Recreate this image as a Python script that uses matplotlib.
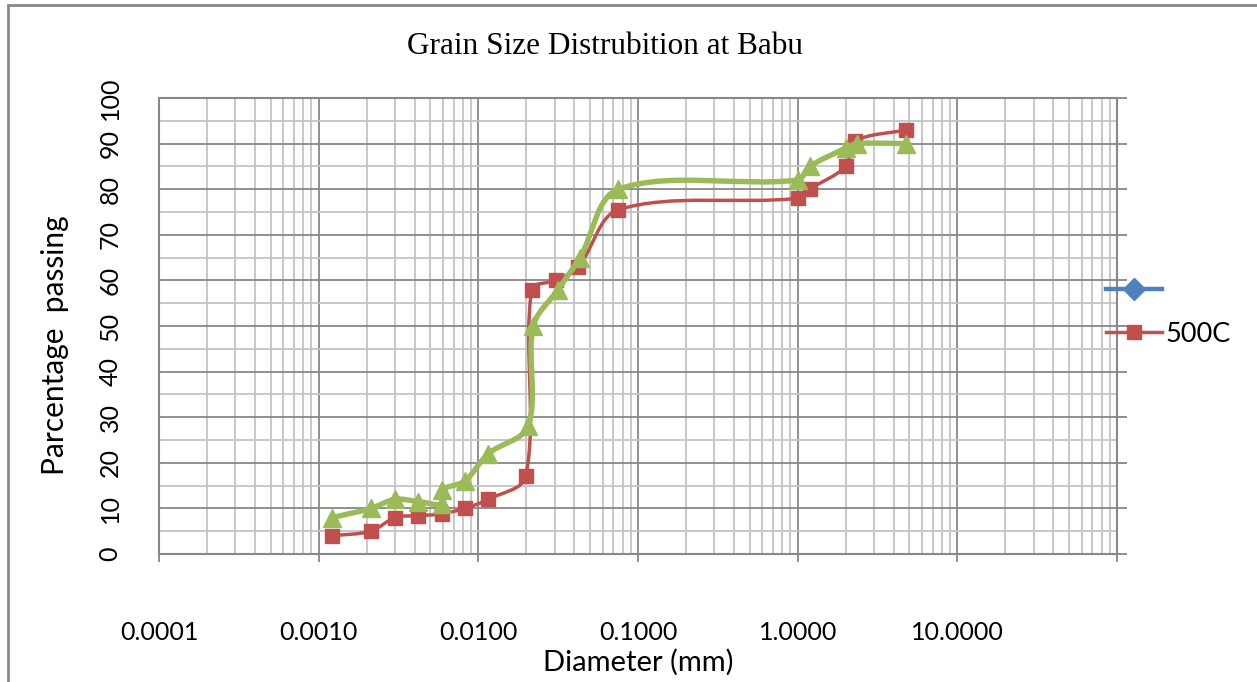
import numpy as np
import matplotlib
matplotlib.use("Agg")
import matplotlib.pyplot as plt
from matplotlib.path import Path
from matplotlib.patches import PathPatch, Rectangle
from matplotlib.lines import Line2D
from matplotlib.ticker import FixedLocator, NullFormatter

# --- data ---
dia_500c = [0.00122, 0.00212, 0.00302, 0.00421, 0.0059, 0.00822, 0.01154, 0.0198,
            0.0216, 0.0306, 0.0423, 0.0754, 1.0, 1.19, 2.0, 2.29, 4.75]
pass_500c = [4.0, 5.0, 8.0, 8.4, 8.8, 10.0, 12.0, 17.0,
             58.0, 60.0, 63.0, 75.5, 78.0, 80.0, 85.0, 90.5, 93.0]

dia_green = [0.00122, 0.00212, 0.00302, 0.00421, 0.0059, 0.0059, 0.00822, 0.01154, 0.0205,
             0.0221, 0.0316, 0.0433, 0.0754, 1.0, 1.19, 2.0, 2.36, 4.75]
pass_green = [8.0, 10.0, 12.0, 11.5, 11.0, 14.0, 16.0, 22.0, 28.0,
              50.0, 58.0, 65.0, 80.0, 82.0, 85.0, 89.0, 90.0, 90.0]

xtick_vals = [1e-4, 1e-3, 1e-2, 1e-1, 1e0, 1e1, 1e2]
xtick_labels = ['0.0001', '0.0010', '0.0100', '0.1000', '1.0000', '10.0000', '']
ytick_vals = list(range(0, 101, 10))

RED = '#C0504D'
GREEN = '#9BBB59'
BLUE = '#4F81BD'
GRID_MAJ = '#878787'
GRID_MIN = '#c4c4c4'

plt.rcParams['font.family'] = ['Lato', 'DejaVu Sans']

# rough pixel scale of the plot area, only used to weight the smoothing
PX_DECADE = 159.7
PX_UNIT = 4.56


def smooth_path(xs, ys):
    # Excel-like smoothed line: chord-weighted Bezier segments in (log x, y) space
    pts = np.column_stack([np.log10(xs), np.asarray(ys, float)])
    scl = np.array([PX_DECADE, PX_UNIT])
    n = len(pts)
    verts = [pts[0]]
    codes = [Path.MOVETO]

    def dist(a, b):
        return np.hypot(*((b - a) * scl))

    for i in range(n - 1):
        p0 = pts[max(i - 1, 0)]
        p1 = pts[i]
        p2 = pts[i + 1]
        p3 = pts[min(i + 2, n - 1)]
        d1, d2, d3 = dist(p0, p1), dist(p1, p2), dist(p2, p3)
        f1 = d2 / (d1 + d2) / 3.0 if d1 + d2 > 0 else 0
        f2 = d2 / (d2 + d3) / 3.0 if d2 + d3 > 0 else 0
        verts += [p1 + (p2 - p0) * f1, p2 - (p3 - p1) * f2, p2]
        codes += [Path.CURVE4] * 3
    verts = np.array(verts)
    verts[:, 0] = 10 ** verts[:, 0]
    return Path(verts, codes)


fig = plt.figure(figsize=(12.57, 6.82), dpi=100)
ax = fig.add_axes([159 / 1257, 1 - 554 / 682, (1117 - 159) / 1257, (554 - 98) / 682])

ax.set_xscale('log')
ax.set_xlim(1e-4, 1e2)
ax.set_ylim(0, 100)

# grid
ax.xaxis.set_major_locator(FixedLocator(xtick_vals))
ax.set_xticklabels(xtick_labels)
minor_x = [m * 10.0 ** e for e in range(-4, 2) for m in range(2, 10)]
ax.xaxis.set_minor_locator(FixedLocator(minor_x))
ax.xaxis.set_minor_formatter(NullFormatter())
ax.set_yticks(ytick_vals)
ax.set_yticks(list(range(5, 100, 10)), minor=True)
ax.grid(True, which='major', color=GRID_MAJ, lw=1.3)
ax.grid(True, which='minor', color=GRID_MIN, lw=1.3)
ax.set_axisbelow(True)

for s in ax.spines.values():
    s.set_color(GRID_MAJ)
    s.set_linewidth(1.5)

ax.tick_params(axis='x', which='major', length=6, width=1.3, color=GRID_MAJ,
               pad=42, labelsize=18)
ax.tick_params(axis='x', which='minor', length=0)
ax.tick_params(axis='y', which='major', left=False, right=True, length=7, width=1.3,
               color=GRID_MAJ, labelleft=True, pad=20, labelsize=18, labelrotation=90)
ax.tick_params(axis='y', which='minor', length=0)
for lab in ax.get_yticklabels():
    lab.set_va('center')

# series
ax.add_patch(PathPatch(smooth_path(dia_500c, pass_500c), fill=False, ec=RED, lw=2.5,
                       capstyle='round', joinstyle='round', zorder=3))
ax.plot(dia_500c, pass_500c, ls='none', marker='s', ms=10.5, mfc=RED, mec=RED, zorder=4)

ax.add_patch(PathPatch(smooth_path(dia_green, pass_green), fill=False, ec=GREEN, lw=3.9,
                       capstyle='round', joinstyle='round', zorder=5))
ax.plot(dia_green, pass_green, ls='none', marker='^', ms=13.5, mfc=GREEN, mec=GREEN, zorder=6)

# legend (first series has no name, green series not listed)
blue_h = Line2D([], [], color=BLUE, lw=3.2, marker='D', ms=11, mfc=BLUE, mec=BLUE)
red_h = Line2D([], [], color=RED, lw=2.5, marker='s', ms=10.5, mfc=RED, mec=RED)
fig.legend([blue_h, red_h], ['', '500C'], loc='upper left',
           bbox_to_anchor=(1106 / 1257, 1 - 278 / 682), frameon=False,
           fontsize=19.5, handlelength=2.05, handletextpad=0.15, labelspacing=0.7,
           borderpad=0, borderaxespad=0)

# titles and axis names
fig.text(605 / 1257, 1 - 47 / 682, 'Grain Size Distrubition at Babu', ha='center', va='center',
         fontsize=22.5, family='Liberation Serif')
fig.text(638 / 1257, 1 - 662 / 682, 'Diameter (mm)', ha='center', va='center', fontsize=21)
fig.text(55 / 1257, 1 - 345 / 682, 'Parcentage  passing', ha='center', va='center',
         rotation=90, fontsize=21.5)

# outer chart border
fig.add_artist(Rectangle((8 / 1257, -0.2), 1.5, 1.2 - 5 / 682, transform=fig.transFigure,
                         fill=False, ec=GRID_MAJ, lw=2))

fig.savefig('out.png', dpi=100)
